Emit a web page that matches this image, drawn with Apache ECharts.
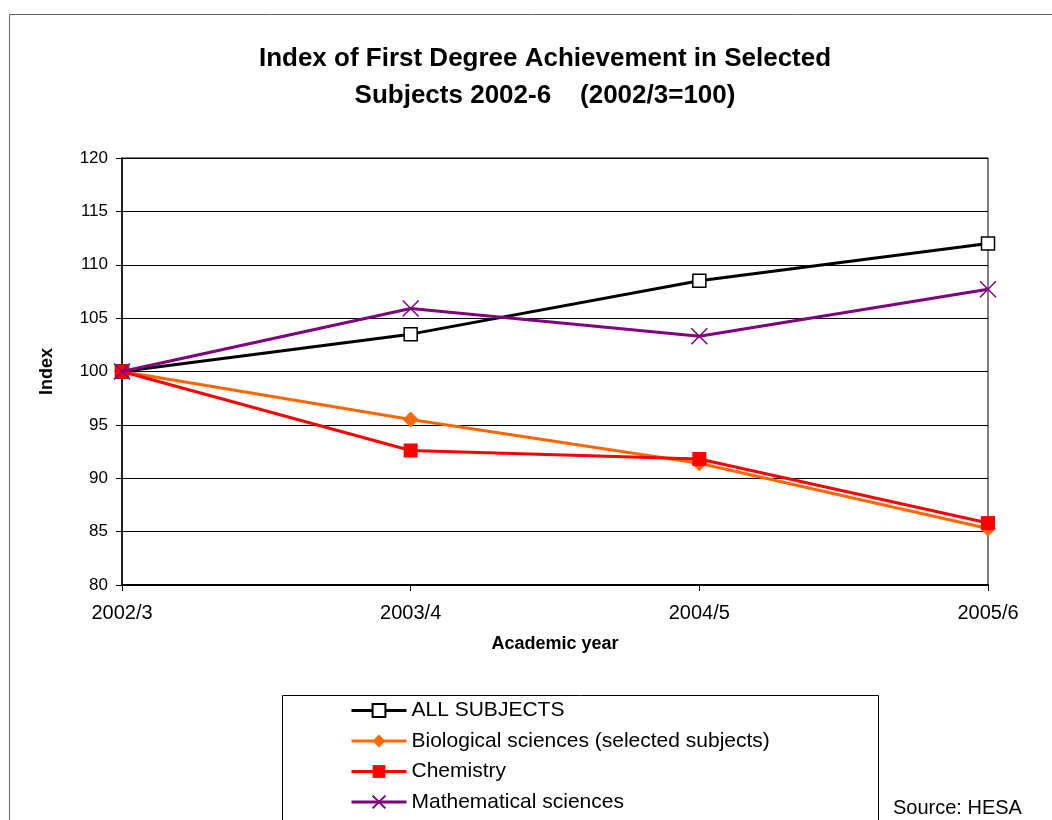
<!DOCTYPE html>
<html><head><meta charset="utf-8">
<script src="https://cdn.jsdelivr.net/npm/echarts@6/dist/echarts.min.js"></script>
<style>html,body{margin:0;padding:0;background:#fff}#c{width:1052px;height:820px}</style>
</head><body><div id="c"></div>
<script>
const categories = ['2002/3','2003/4','2004/5','2005/6'];
const allSubjects = [100, 103.5, 108.5, 112.0];
const biological = [100, 95.5, 91.4, 85.3];
const chemistry = [100, 92.6, 91.8, 85.8];
const mathematical = [100, 105.9, 103.3, 107.7];
const seriesNames = ['ALL SUBJECTS','Biological sciences (selected subjects)','Chemistry','Mathematical sciences'];

const FONT = '"Liberation Sans", Arial, sans-serif';
const chart = echarts.init(document.getElementById('c'));
const xPath = 'path://M0,0L10,10M10,0L0,10';
chart.setOption({
  animation: false,
  backgroundColor: '#fff',
  textStyle: {fontFamily: FONT},
  title: {
    text: 'Index of First Degree Achievement in Selected\nSubjects 2002-6    (2002/3=100)',
    left: 540, top: 35, textAlign: 'center',
    textStyle: {fontSize: 26, fontWeight: 'bold', color: '#000', lineHeight: 37, fontFamily: FONT}
  },
  grid: {left: 122, right: 64, top: 158, bottom: 235, show: true, borderColor: '#000', borderWidth: 1},
  xAxis: {
    type: 'category', data: categories, boundaryGap: false,
    name: 'Academic year', nameLocation: 'middle', nameGap: 50,
    nameTextStyle: {fontSize: 18, fontWeight: 'bold', color: '#000'},
    axisLine: {lineStyle: {color: '#000', width: 2}},
    axisTick: {show: true, length: 6, lineStyle: {color: '#000'}},
    axisLabel: {fontSize: 20, color: '#000', margin: 18},
    splitLine: {show: false}
  },
  yAxis: {
    type: 'value', min: 80, max: 120, interval: 5,
    name: 'Index', nameLocation: 'middle', nameGap: 66, nameRotate: 90,
    nameTextStyle: {fontSize: 18, fontWeight: 'bold', color: '#000'},
    axisLine: {show: true, lineStyle: {color: '#000', width: 1.5}},
    axisTick: {show: true, length: 6, lineStyle: {color: '#000'}},
    axisLabel: {fontSize: 17, color: '#000', margin: 14},
    splitLine: {lineStyle: {color: '#000', width: 1}}
  },
  legend: {
    orient: 'vertical', left: 350, top: 700, padding: 0, itemGap: 9.5, itemWidth: 55, itemHeight: 16,
    height: 125,
    lineStyle: {width: 3},
    textStyle: {fontSize: 21, color: '#000', fontFamily: FONT},
    data: seriesNames
  },
  graphic: [
    {type: 'rect', shape: {x: 9.5, y: 14.5, width: 1100, height: 900}, style: {fill: 'none', stroke: '#666', lineWidth: 1}, z: -1, silent: true},
    {type: 'rect', shape: {x: 282.5, y: 695.5, width: 596, height: 200}, style: {fill: 'none', stroke: '#000', lineWidth: 1}, z: -1, silent: true},
    {type: 'text', x: 893, y: 798, style: {text: 'Source: HESA', font: '20px ' + FONT, fill: '#000'}}
  ],
  series: [
    {name: seriesNames[0], type: 'line', data: allSubjects, symbol: 'rect', symbolSize: 13,
     lineStyle: {color: '#000', width: 3}, itemStyle: {color: '#fff', borderColor: '#000', borderWidth: 1.5}, z: 4},
    {name: seriesNames[1], type: 'line', data: biological, symbol: 'diamond', symbolSize: 16,
     lineStyle: {color: '#ff6600', width: 3}, itemStyle: {color: '#ff6600'}, z: 3},
    {name: seriesNames[2], type: 'line', data: chemistry, symbol: 'rect', symbolSize: 14,
     lineStyle: {color: '#ff0000', width: 3}, itemStyle: {color: '#ff0000'}, z: 4},
    {name: seriesNames[3], type: 'line', data: mathematical, symbol: xPath, symbolSize: 16,
     lineStyle: {color: '#800080', width: 3}, itemStyle: {color: 'none', borderColor: '#800080', borderWidth: 1.5}, z: 5}
  ]
});
</script></body></html>
